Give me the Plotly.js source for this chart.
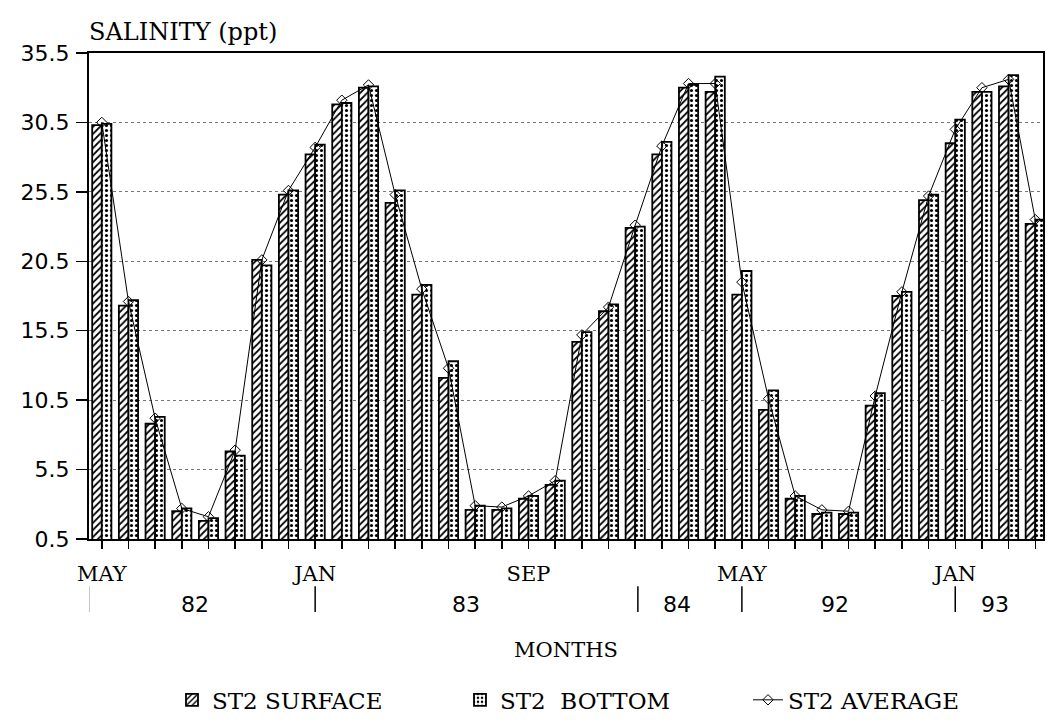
<!DOCTYPE html>
<html>
<head>
<meta charset="utf-8">
<script src="https://cdn.plot.ly/plotly-3.0.1.min.js"></script>
<style>html,body{margin:0;padding:0;background:#fff;}#chart{width:1047px;height:726px;}</style>
</head>
<body>
<div id="chart"></div>
<script>
// Months, May 1982 - Apr 1984 and May 1992 - Apr 1993
const months = ['MAY','JUN','JUL','AUG','SEP','OCT','NOV','DEC',
  'JAN','FEB','MAR','APR','MAY','JUN','JUL','AUG','SEP','OCT','NOV','DEC',
  'JAN','FEB','MAR','APR',
  'MAY','JUN','JUL','AUG','SEP','OCT','NOV','DEC',
  'JAN','FEB','MAR','APR'];
const shownMonthIdx = [0, 8, 16, 24, 32];
const surface = [30.3,17.3,8.8,2.5,1.8,6.8,20.6,25.3,28.2,31.8,33.0,24.7,18.1,12.1,2.6,2.6,3.4,4.4,
  14.7,16.9,22.9,28.2,33.0,32.7,18.1,9.8,3.4,2.3,2.3,10.1,18.0,24.9,29.0,32.7,33.1,23.2];
const bottom = [30.4,17.7,9.3,2.7,2.0,6.5,20.2,25.6,28.9,31.9,33.1,25.6,18.8,13.3,2.9,2.7,3.6,4.7,
  15.4,17.4,23.0,29.1,33.2,33.8,19.8,11.2,3.6,2.4,2.4,11.0,18.3,25.3,30.7,32.7,33.9,23.5];
const average = [30.5,17.6,9.2,2.7,2.1,6.9,20.6,25.6,28.7,32.1,33.2,25.3,18.5,12.8,2.9,2.8,3.6,4.7,
  15.2,17.2,23.1,28.8,33.3,33.3,19.0,10.6,3.6,2.6,2.5,10.8,18.3,25.2,30.0,33.0,33.6,23.5];
const yearLabels = ['82','83','84','92','93'];
const yearPos = [3.5, 13.65, 21.55, 27.5, 33.5];
const yearSeparators = [-0.5, 8, 20.1, 24, 32, 35.4];

const idx = months.map((m, i) => i);
const serif = "'DejaVu Serif', 'Liberation Serif', serif";
const sans = "'DejaVu Sans', 'Liberation Sans', sans-serif";

const traces = [
  {type:'bar', name:'ST2 SURFACE', x: idx, y: surface,
   marker:{color:'#ffffff', line:{color:'#000', width:1.8},
     pattern:{shape:'/', fgcolor:'#000', bgcolor:'#fff', size:5, solidity:0.35}}},
  {type:'bar', name:'ST2  BOTTOM', x: idx, y: bottom,
   marker:{color:'#ffffff', line:{color:'#000', width:1.8},
     pattern:{shape:'.', fgcolor:'#000', bgcolor:'#fff', size:5, solidity:0.3}}},
  {type:'scatter', mode:'lines+markers', name:'ST2 AVERAGE', x: idx, y: average,
   line:{color:'#000', width:1},
   marker:{symbol:'diamond-open', size:8, color:'#000', line:{width:1, color:'#000'}}}
];

const shapes = yearSeparators.map(p => ({type:'line', xref:'x', yref:'paper',
  x0:p, x1:p, y0:-0.097, y1:-0.150, line:{color:'#000', width:1.5}}));

const annotations = yearLabels.map((t, i) => ({text:t, xref:'x', yref:'paper',
  x: yearPos[i], y:-0.134, showarrow:false, xanchor:'center', yanchor:'middle',
  font:{family:sans, size:22, color:'#000'}}));
annotations.push({text:'SALINITY (ppt)', xref:'paper', yref:'paper', x:0, y:1,
  xanchor:'left', yanchor:'bottom', yshift:5, xshift:-2, showarrow:false,
  font:{family:serif, size:24, color:'#000'}});

const layout = {
  width:1047, height:726,
  font:{family:serif, color:'#000'},
  margin:{l:89, r:4, t:53, b:187},
  paper_bgcolor:'#fff', plot_bgcolor:'#fff',
  barmode:'group', bargap:0.28, bargroupgap:0,
  showlegend:true,
  legend:{orientation:'h', x:0.087, xanchor:'left', y:-0.331, yanchor:'middle',
    font:{family:serif, size:23, color:'#000'}, traceorder:'normal',
    entrywidth:243, entrywidthmode:'pixels', bgcolor:'rgba(0,0,0,0)'},
  xaxis:{type:'linear', range:[-0.48, 35.29], tickmode:'array', tickvals: idx,
    ticktext: months.map((m, i) => shownMonthIdx.includes(i) ? m : ''),
    ticks:'outside', ticklen:8, tickwidth:1.5, tickcolor:'#000',
    showgrid:false, zeroline:false, showline:true, mirror:true, linecolor:'#000', linewidth:2,
    tickfont:{family:serif, size:21, color:'#000'}, ticklabelstandoff:7,
    title:{text:'MONTHS', font:{family:serif, size:21, color:'#000'}, standoff:57}},
  yaxis:{range:[0.5, 35.5], tickmode:'linear', tick0:0.5, dtick:5,
    ticks:'outside', ticklen:11, tickwidth:1.5, tickcolor:'#000',
    showgrid:true, gridcolor:'#777', griddash:'dot', gridwidth:1,
    zeroline:false, showline:true, mirror:true, linecolor:'#000', linewidth:2,
    tickfont:{family:sans, size:22, color:'#000'}, ticklabelstandoff:2},
  shapes: shapes,
  annotations: annotations
};

Plotly.newPlot('chart', traces, layout, {displayModeBar:false, staticPlot:true});
</script>
</body>
</html>
